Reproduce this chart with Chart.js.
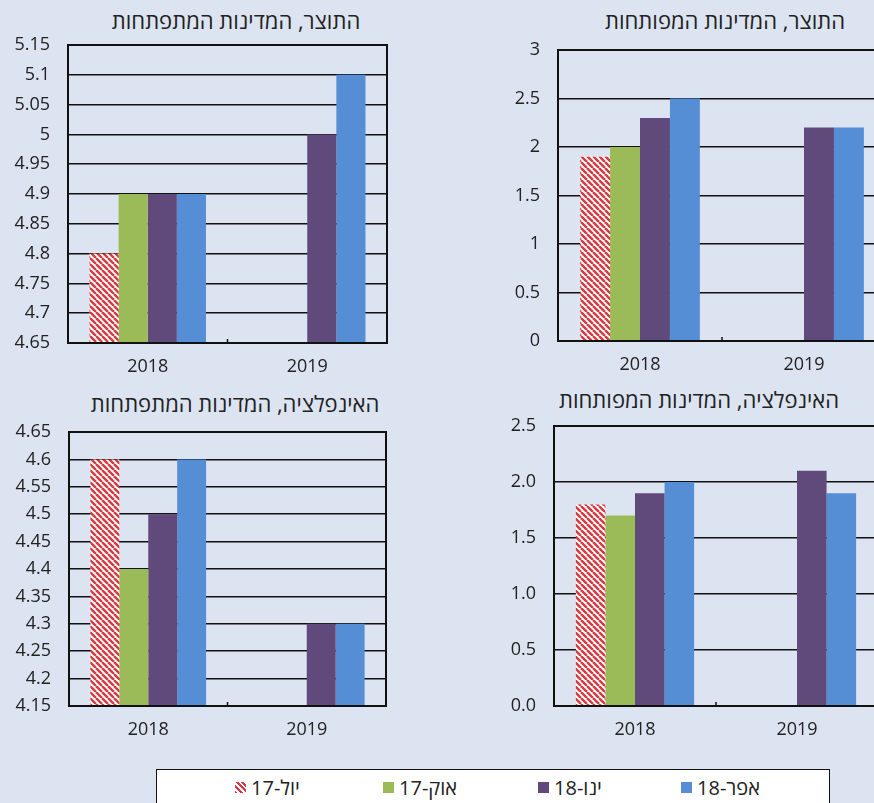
<!DOCTYPE html>
<html lang="he">
<head>
<meta charset="utf-8">
<script src="https://cdn.jsdelivr.net/npm/chart.js@4/dist/chart.umd.min.js"></script>
<style>
  html, body { margin:0; padding:0; width:874px; height:803px; overflow:hidden; background:#dde4f1; }
  body { position:relative; font-family:"Open Sans","Liberation Sans","DejaVu Sans",sans-serif; color:#222; }
  canvas { position:absolute; }
  .title { position:absolute; font-size:22px; white-space:nowrap; transform:translate(-50%,-50%); direction:rtl; color:#222; }
  #legend { position:absolute; left:156px; top:769px; width:674px; height:44px; background:#fff; border:1.5px solid #111; box-sizing:border-box; }
  .li { position:absolute; top:0; height:34px; display:flex; align-items:center; font-size:20px; color:#222; }
  .sw { width:11px; height:11px; margin-right:5px; }
  .lt { direction:rtl; unicode-bidi:isolate; }
</style>
</head>
<body>
<div class="title" style="left:236px;top:20px">התוצר, המדינות המתפתחות</div>
<div class="title" style="left:725px;top:20px">התוצר, המדינות המפותחות</div>
<div class="title" style="left:235px;top:403px">האינפלציה, המדינות המתפתחות</div>
<div class="title" style="left:699px;top:399px">האינפלציה, המדינות המפותחות</div>

<canvas id="c1" width="437" height="380" style="left:0;top:0"></canvas>
<canvas id="c2" width="470" height="380" style="left:437px;top:0"></canvas>
<canvas id="c3" width="437" height="423" style="left:0;top:380px"></canvas>
<canvas id="c4" width="470" height="423" style="left:437px;top:380px"></canvas>

<div id="legend"></div>

<script>
// ---- data ----
const categories = ['2018', '2019'];
const seriesLabels = ['יול-17', 'אוק-17', 'ינו-18', 'אפר-18'];

// GDP, emerging economies
const gdpEmJul17 = [4.8, null];
const gdpEmOct17 = [4.9, null];
const gdpEmJan18 = [4.9, 5.0];
const gdpEmApr18 = [4.9, 5.1];
// GDP, advanced economies
const gdpAdvJul17 = [1.9, null];
const gdpAdvOct17 = [2.0, null];
const gdpAdvJan18 = [2.3, 2.2];
const gdpAdvApr18 = [2.5, 2.2];
// Inflation, emerging economies
const infEmJul17 = [4.6, null];
const infEmOct17 = [4.4, null];
const infEmJan18 = [4.5, 4.3];
const infEmApr18 = [4.6, 4.3];
// Inflation, advanced economies
const infAdvJul17 = [1.8, null];
const infAdvOct17 = [1.7, null];
const infAdvJan18 = [1.9, 2.1];
const infAdvApr18 = [2.0, 1.9];

// axis ranges [min, max, step]
const gdpEmAxis = [4.65, 5.15, 0.05];
const gdpAdvAxis = [0, 3, 0.5];
const infEmAxis = [4.15, 4.65, 0.05];
const infAdvAxis = [0, 2.5, 0.5];

// ---- styles ----
const FONT = "'Open Sans','Liberation Sans','DejaVu Sans',sans-serif";
const RED = '#d63a40', GREEN = '#9bbb59', PURPLE = '#604a7b', BLUE = '#558ed5';

function hatch() {
  const s = 6;
  const c = document.createElement('canvas');
  c.width = s; c.height = s;
  const x = c.getContext('2d');
  x.fillStyle = '#fff'; x.fillRect(0, 0, s, s);
  x.strokeStyle = RED; x.lineWidth = 2.4;
  x.beginPath();
  for (let k = -s; k <= s; k += s) { x.moveTo(k, 0); x.lineTo(k + s, s); }
  x.stroke();
  return x.createPattern(c, 'repeat');
}
const HATCH = hatch();
const colors = [HATCH, GREEN, PURPLE, BLUE];

const frame = {
  id: 'frame',
  afterDatasetsDraw(chart) {
    const a = chart.chartArea, ctx = chart.ctx;
    ctx.save();
    ctx.strokeStyle = '#111'; ctx.lineWidth = 2;
    ctx.strokeRect(a.left, a.top, a.right - a.left, a.bottom - a.top);
    const xm = chart.scales.x.getPixelForValue(0.5);
    ctx.lineWidth = 1.5;
    ctx.beginPath(); ctx.moveTo(xm, a.bottom); ctx.lineTo(xm, a.bottom - 4); ctx.stroke();
    ctx.restore();
  }
};

function make(id, series, axis, pad, yW, fmt) {
  new Chart(document.getElementById(id), {
    type: 'bar',
    data: {
      labels: categories,
      datasets: series.map((d, i) => ({
        label: seriesLabels[i], data: d, backgroundColor: colors[i], borderWidth: 0
      }))
    },
    options: {
      responsive: false, animation: false,
      layout: { padding: pad },
      datasets: { bar: { barPercentage: 1, categoryPercentage: 0.73 } },
      plugins: { legend: { display: false }, tooltip: { enabled: false }, title: { display: false } },
      scales: {
        x: {
          grid: { display: false }, border: { display: false },
          ticks: { font: { family: FONT, size: 18 }, color: '#222', padding: 5 },
          afterFit(s) { s.height = 37; }
        },
        y: {
          min: axis[0], max: axis[1],
          grid: { color: '#111', lineWidth: 1.5, drawTicks: false },
          border: { display: false },
          ticks: { stepSize: axis[2], font: { family: FONT, size: 18 }, color: '#222', padding: 18,
                   callback: fmt },
          afterFit(s) { s.width = yW; }
        }
      }
    },
    plugins: [frame]
  });
}
const gen = v => String(parseFloat(Number(v).toFixed(2)));
const one = v => Number(v).toFixed(1);

make('c1', [gdpEmJul17, gdpEmOct17, gdpEmJan18, gdpEmApr18], gdpEmAxis,
     { left: 0, right: 50, top: 45, bottom: 0 }, 68, gen);
make('c2', [gdpAdvJul17, gdpAdvOct17, gdpAdvJan18, gdpAdvApr18], gdpAdvAxis,
     { left: 53, right: 21, top: 50, bottom: 2 }, 68, gen);
make('c3', [infEmJul17, infEmOct17, infEmJan18, infEmApr18], infEmAxis,
     { left: 1, right: 51, top: 52, bottom: 60 }, 68, gen);
make('c4', [infAdvJul17, infAdvOct17, infAdvJan18, infAdvApr18], infAdvAxis,
     { left: 49, right: 29, top: 46, bottom: 60 }, 68, one);

// ---- legend ----
const legendX = [78, 226, 381, 524];
const lg = document.getElementById('legend');
seriesLabels.forEach((t, i) => {
  const d = document.createElement('div');
  d.className = 'li'; d.style.left = legendX[i] + 'px';
  const sw = document.createElement('span'); sw.className = 'sw';
  sw.style.background = i === 0
    ? 'repeating-linear-gradient(45deg,' + RED + ' 0 2px,#fff 2px 4px)'
    : [null, GREEN, PURPLE, BLUE][i];
  const tx = document.createElement('span'); tx.className = 'lt'; tx.textContent = t;
  d.appendChild(sw); d.appendChild(tx); lg.appendChild(d);
});
</script>
</body>
</html>
